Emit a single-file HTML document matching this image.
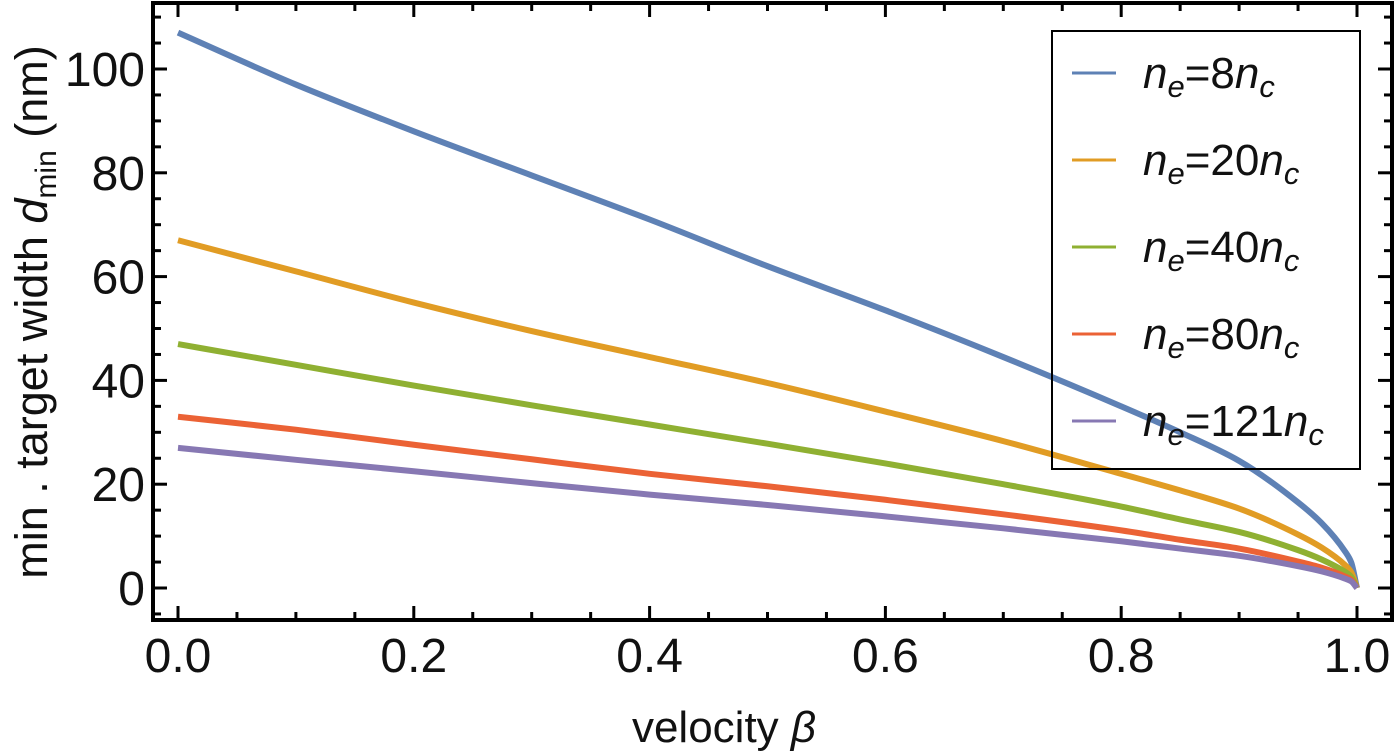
<!DOCTYPE html>
<html><head><meta charset="utf-8"><style>
html,body{margin:0;padding:0;background:#fff;}
svg{display:block;font-family:"Liberation Sans",sans-serif;}
</style></head><body>
<svg id="chart" width="1400" height="753" viewBox="0 0 1400 753" xmlns="http://www.w3.org/2000/svg">
<g id="plot"></g>
<rect x="153" y="3" width="1239" height="617" fill="none" stroke="#000" stroke-width="4"/>
<g id="ticks"></g>
<text x="724" y="742" font-size="44" text-anchor="middle" fill="#111">velocity <tspan font-style="italic">β</tspan></text>
<text transform="translate(47,312) rotate(-90)" font-size="45" text-anchor="middle" fill="#111">min . target width <tspan font-style="italic">d</tspan><tspan font-size="30" dy="9">min</tspan><tspan dy="-9"> (nm)</tspan></text>
<g id="legend">
<rect x="1052" y="31" width="308" height="438" fill="none" stroke="#000" stroke-width="2"/>
</g>
</svg>
<script>
const betas = [0, 0.1, 0.2, 0.3, 0.4, 0.5, 0.6, 0.7, 0.8, 0.85, 0.9, 0.95, 0.97, 0.99, 0.995, 1.0];
const series8 = [107, 97, 88, 79.5, 71, 62, 53.5, 44.5, 35, 30, 24.5, 16.5, 12.5, 7, 5, 0];
const series20 = [67, 61, 55, 49.5, 44.5, 39.5, 34, 28.3, 22, 18.8, 15.3, 10.3, 7.8, 4.4, 3.1, 0];
const series40 = [47, 43, 39, 35.2, 31.5, 27.8, 24, 20, 15.7, 13.2, 10.8, 7.3, 5.5, 3.1, 2.2, 0];
const series80 = [33, 30.5, 27.6, 24.8, 22, 19.6, 17, 14.2, 11.1, 9.3, 7.6, 5.1, 3.9, 2.2, 1.6, 0];
const series121 = [27, 24.7, 22.5, 20.2, 18, 16, 13.8, 11.5, 9, 7.6, 6.2, 4.2, 3.2, 1.8, 1.3, 0];
const seriesLabels = ["8", "20", "40", "80", "121"];
const xTickLabels = ["0.0", "0.2", "0.4", "0.6", "0.8", "1.0"];
const yTickLabels = ["0", "20", "40", "60", "80", "100"];

const NS = "http://www.w3.org/2000/svg";
const xs = v => 178 + v * (1357 - 178);
const ys = v => 588 - v * (588 - 69) / 100;
const colors = ["#5e81b5", "#e19c24", "#8fb032", "#eb6235", "#8778b3"];
const allSeries = [series8, series20, series40, series80, series121];
function mk(tag, attrs, parent) {
  const e = document.createElementNS(NS, tag);
  for (const k in attrs) e.setAttribute(k, attrs[k]);
  parent.appendChild(e);
  return e;
}
function monoPath(pts) {
  const n = pts.length, dx = [], m = [], t = [];
  for (let i = 0; i < n - 1; i++) { dx[i] = pts[i+1][0] - pts[i][0]; m[i] = (pts[i+1][1] - pts[i][1]) / dx[i]; }
  t[0] = m[0]; t[n-1] = m[n-2];
  for (let i = 1; i < n - 1; i++) {
    if (m[i-1] * m[i] <= 0) t[i] = 0;
    else { const w1 = 2*dx[i] + dx[i-1], w2 = dx[i] + 2*dx[i-1]; t[i] = (w1 + w2) / (w1 / m[i-1] + w2 / m[i]); }
  }
  let d = "M" + pts[0][0] + "," + pts[0][1];
  for (let i = 0; i < n - 1; i++) {
    const h = dx[i] / 3;
    d += " C" + (pts[i][0] + h) + "," + (pts[i][1] + t[i]*h) + " " + (pts[i+1][0] - h) + "," + (pts[i+1][1] - t[i+1]*h) + " " + pts[i+1][0] + "," + pts[i+1][1];
  }
  return d;
}
const plot = document.getElementById("plot");
allSeries.forEach((s, i) => {
  const pts = betas.map((b, j) => [xs(b), ys(s[j])]);
  const p = mk("path", {d: monoPath(pts), fill: "none", stroke: colors[i], "stroke-width": 6, "stroke-linejoin": "round"}, plot);
  
  
});
const ticks = document.getElementById("ticks");
xTickLabels.forEach((l, i) => {
  const v = i * 0.2, x = xs(v);
  mk("line", {x1: x, x2: x, y1: 620, y2: 606, stroke: "#000", "stroke-width": 3}, ticks);
  mk("line", {x1: x, x2: x, y1: 3, y2: 17, stroke: "#000", "stroke-width": 3}, ticks);
  if (i < 5) {
    for (let k = 1; k <= 3; k++) {
      const xm = xs(v + k * 0.05);
      mk("line", {x1: xm, x2: xm, y1: 620, y2: 612, stroke: "#000", "stroke-width": 3}, ticks);
      mk("line", {x1: xm, x2: xm, y1: 3, y2: 11, stroke: "#000", "stroke-width": 3}, ticks);
    }
  }
  const t = mk("text", {x: x, y: 672, "font-size": 48, "text-anchor": "middle", fill: "#111"}, ticks);
  t.textContent = l;
  
  
});
yTickLabels.forEach((l, i) => {
  const v = i * 20, y = ys(v);
  mk("line", {x1: 153, x2: 167, y1: y, y2: y, stroke: "#000", "stroke-width": 3}, ticks);
  mk("line", {x1: 1392, x2: 1378, y1: y, y2: y, stroke: "#000", "stroke-width": 3}, ticks);
  const t = mk("text", {x: 145, y: y + 17, "font-size": 48, "text-anchor": "end", fill: "#111"}, ticks);
  t.textContent = l;
  
  
});
for (let v = -5; v <= 110; v += 5) {
  if (v % 20 === 0) continue;
  const y = ys(v);
  if (y > 618 || y < 5) continue;
  mk("line", {x1: 153, x2: 161, y1: y, y2: y, stroke: "#000", "stroke-width": 3}, ticks);
  mk("line", {x1: 1392, x2: 1384, y1: y, y2: y, stroke: "#000", "stroke-width": 3}, ticks);
}
const legend = document.getElementById("legend");
seriesLabels.forEach((l, i) => {
  const y = 73 + i * 87;
  const ln = mk("line", {x1: 1072, x2: 1116, y1: y, y2: y, stroke: colors[i], "stroke-width": 3}, legend);
  
  
  const t = mk("text", {x: 1143, y: y + 15, "font-size": 44, fill: "#111"}, legend);
  
  
  t.innerHTML = '<tspan font-style="italic">n</tspan><tspan font-style="italic" font-size="31" dy="9">e</tspan><tspan dy="-9">=' + l + '</tspan><tspan font-style="italic">n</tspan><tspan font-style="italic" font-size="31" dy="9">c</tspan>';
});
</script>
</body></html>
